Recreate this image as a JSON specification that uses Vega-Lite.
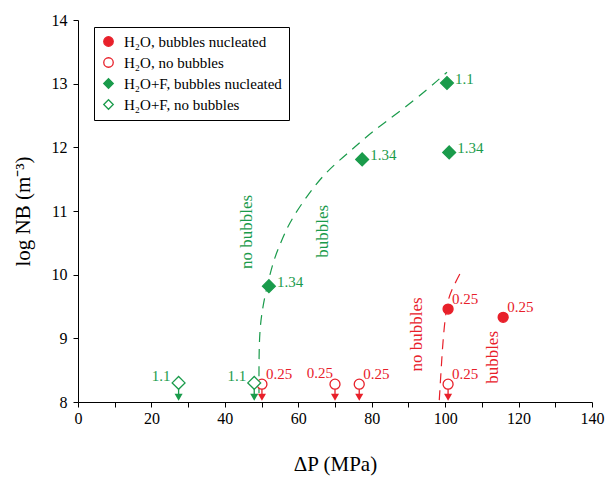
{
  "$schema": "https://vega.github.io/schema/vega-lite/v6.json",
  "width": 514,
  "height": 382,
  "autosize": {"type": "none"},
  "padding": {"left": 78, "top": 20, "right": 17, "bottom": 78},
  "background": "white",
  "config": {
    "view": {"stroke": null},
    "font": "Liberation Serif",
    "axis": {
      "grid": false,
      "domainColor": "#000000",
      "domainWidth": 1,
      "tickColor": "#000000",
      "tickWidth": 1,
      "tickSize": 5,
      "labelFont": "Liberation Serif",
      "labelFontSize": 16,
      "labelColor": "#000000",
      "titleFont": "Liberation Serif",
      "titleFontSize": 21,
      "titleFontWeight": "normal",
      "titleColor": "#000000"
    },
    "legend": {
      "orient": "none",
      "legendX": 16,
      "legendY": 7,
      "strokeColor": "#000000",
      "fillColor": "white",
      "padding": 7,
      "rowPadding": 5,
      "labelFont": "Liberation Serif",
      "labelFontSize": 15,
      "labelLimit": 400,
      "labelOffset": 8,
      "symbolSize": 90,
      "symbolStrokeWidth": 1.3
    }
  },
  "datasets": {
    "pts": [
      {"series": "H₂O, bubbles nucleated", "x": 100.8, "y": 9.46, "label": "0.25"},
      {"series": "H₂O, bubbles nucleated", "x": 115.8, "y": 9.33, "label": "0.25"},
      {"series": "H₂O, no bubbles", "x": 50.1, "y": 8.28, "label": "0.25"},
      {"series": "H₂O, no bubbles", "x": 70.0, "y": 8.28, "label": "0.25"},
      {"series": "H₂O, no bubbles", "x": 76.6, "y": 8.28, "label": "0.25"},
      {"series": "H₂O, no bubbles", "x": 100.8, "y": 8.28, "label": "0.25"},
      {"series": "H₂O+F, bubbles nucleated", "x": 100.5, "y": 13.01, "label": "1.1"},
      {"series": "H₂O+F, bubbles nucleated", "x": 101.1, "y": 11.92, "label": "1.34"},
      {"series": "H₂O+F, bubbles nucleated", "x": 77.4, "y": 11.81, "label": "1.34"},
      {"series": "H₂O+F, bubbles nucleated", "x": 52.0, "y": 9.82, "label": "1.34"},
      {"series": "H₂O+F, no bubbles", "x": 27.4, "y": 8.3, "label": "1.1"},
      {"series": "H₂O+F, no bubbles", "x": 48.0, "y": 8.3, "label": "1.1"}
    ],
    "curves": [
      {"curve": "green", "x": 49.3, "y": 8.14},
      {"curve": "green", "x": 49.3, "y": 8.55},
      {"curve": "green", "x": 49.6, "y": 9.13},
      {"curve": "green", "x": 50.9, "y": 9.65},
      {"curve": "green", "x": 53.0, "y": 10.15},
      {"curve": "green", "x": 55.0, "y": 10.47},
      {"curve": "green", "x": 57.8, "y": 10.82},
      {"curve": "green", "x": 62.4, "y": 11.23},
      {"curve": "green", "x": 67.8, "y": 11.61},
      {"curve": "green", "x": 74.1, "y": 11.94},
      {"curve": "green", "x": 80.4, "y": 12.25},
      {"curve": "green", "x": 87.7, "y": 12.57},
      {"curve": "green", "x": 95.1, "y": 12.91},
      {"curve": "green", "x": 100.5, "y": 13.18},
      {"curve": "red", "x": 98.4, "y": 8.03},
      {"curve": "red", "x": 98.9, "y": 8.5},
      {"curve": "red", "x": 99.5, "y": 9.0},
      {"curve": "red", "x": 100.5, "y": 9.5},
      {"curve": "red", "x": 102.0, "y": 9.78},
      {"curve": "red", "x": 104.1, "y": 10.02}
    ],
    "notes": [
      {"group": "green", "text": "no bubbles", "x": 46.0, "y": 10.67},
      {"group": "green", "text": "bubbles", "x": 66.8, "y": 10.68},
      {"group": "red", "text": "no bubbles", "x": 92.4, "y": 9.06},
      {"group": "red", "text": "bubbles", "x": 113.1, "y": 8.7}
    ]
  },
  "encoding": {
    "x": {
      "field": "x",
      "type": "quantitative",
      "scale": {"domain": [0, 140], "nice": false},
      "title": "ΔP  (MPa)",
      "axis": {
        "values": [0, 10, 20, 30, 40, 50, 60, 70, 80, 90, 100, 110, 120, 130, 140],
        "format": "d",
        "labelExpr": "datum.value % 20 === 0 ? datum.label : ''",
        "labelFlush": false,
        "labelPadding": 3,
        "titlePadding": 27
      }
    },
    "y": {
      "field": "y",
      "type": "quantitative",
      "scale": {"domain": [8, 14], "nice": false, "zero": false},
      "title": "log NB  (m⁻³)",
      "axis": {
        "values": [8, 8.5, 9, 9.5, 10, 10.5, 11, 11.5, 12, 12.5, 13, 13.5, 14],
        "format": "d",
        "labelExpr": "datum.value % 1 === 0 ? datum.label : ''",
        "labelPadding": 6,
        "titlePadding": 18
      }
    }
  },
  "layer": [
    {
      "data": {"name": "curves"},
      "mark": {"type": "line", "strokeDash": [10, 7], "strokeWidth": 1.2, "interpolate": "natural"},
      "encoding": {
        "detail": {"field": "curve", "type": "nominal"},
        "order": {"field": "y", "type": "quantitative"},
        "color": {"condition": {"test": "datum.curve === 'green'", "value": "#1a9b4b"}, "value": "#e8202a"}
      }
    },
    {
      "data": {"name": "pts"},
      "transform": [{"filter": "indexof(datum.series, 'no bubbles') >= 0"}],
      "mark": {"type": "rule", "strokeWidth": 1.3},
      "encoding": {
        "y2": {"datum": 8.06},
        "color": {"condition": {"test": "indexof(datum.series, '+F') >= 0", "value": "#1a9b4b"}, "value": "#e8202a"}
      }
    },
    {
      "data": {"name": "pts"},
      "transform": [{"filter": "indexof(datum.series, 'no bubbles') >= 0"}],
      "mark": {"type": "point", "shape": "triangle-down", "filled": true, "size": 65, "opacity": 1},
      "encoding": {
        "y": {"datum": 8.075},
        "color": {"condition": {"test": "indexof(datum.series, '+F') >= 0", "value": "#1a9b4b"}, "value": "#e8202a"}
      }
    },
    {
      "data": {"name": "pts"},
      "mark": {"type": "point", "filled": true, "strokeWidth": 1.3, "opacity": 1},
      "encoding": {
        "fill": {
          "field": "series",
          "type": "nominal",
          "title": null,
          "scale": {
            "domain": ["H₂O, bubbles nucleated", "H₂O, no bubbles", "H₂O+F, bubbles nucleated", "H₂O+F, no bubbles"],
            "range": ["#e8202a", "#ffffff", "#1a9b4b", "#ffffff"]
          },
          "legend": {
            "encode": {
              "labels": {
                "update": {
                  "fill": {"signal": "indexof(datum.label, '+F') >= 0 ? '#1a9b4b' : '#e8202a'"}
                }
              }
            }
          }
        },
        "stroke": {
          "field": "series",
          "type": "nominal",
          "title": null,
          "scale": {
            "domain": ["H₂O, bubbles nucleated", "H₂O, no bubbles", "H₂O+F, bubbles nucleated", "H₂O+F, no bubbles"],
            "range": ["#e8202a", "#e8202a", "#1a9b4b", "#1a9b4b"]
          }
        },
        "shape": {
          "field": "series",
          "type": "nominal",
          "title": null,
          "scale": {
            "domain": ["H₂O, bubbles nucleated", "H₂O, no bubbles", "H₂O+F, bubbles nucleated", "H₂O+F, no bubbles"],
            "range": ["circle", "circle", "diamond", "diamond"]
          }
        },
        "size": {"condition": {"test": "indexof(datum.series, '+F') >= 0", "value": 165}, "value": 100}
      }
    },
    {
      "data": {"name": "pts"},
      "transform": [{"filter": "datum.series === 'H₂O+F, bubbles nucleated'"}],
      "mark": {"type": "text", "align": "left", "baseline": "middle", "dx": 8, "dy": -4, "fontSize": 15, "color": "#1a9b4b"},
      "encoding": {"text": {"field": "label"}}
    },
    {
      "data": {"name": "pts"},
      "transform": [{"filter": "datum.series === 'H₂O+F, no bubbles'"}],
      "mark": {"type": "text", "align": "right", "baseline": "middle", "dx": -8, "dy": -7, "fontSize": 15, "color": "#1a9b4b"},
      "encoding": {"text": {"field": "label"}}
    },
    {
      "data": {"name": "pts"},
      "transform": [{"filter": "indexof(datum.series, '+F') < 0 && datum.x !== 70"}],
      "mark": {"type": "text", "align": "left", "baseline": "middle", "dx": 4, "dy": -10, "fontSize": 15, "color": "#e8202a"},
      "encoding": {"text": {"field": "label"}}
    },
    {
      "data": {"name": "pts"},
      "transform": [{"filter": "indexof(datum.series, '+F') < 0 && datum.x === 70"}],
      "mark": {"type": "text", "align": "right", "baseline": "middle", "dx": -2, "dy": -11, "fontSize": 15, "color": "#e8202a"},
      "encoding": {"text": {"field": "label"}}
    },
    {
      "data": {"name": "notes"},
      "mark": {"type": "text", "angle": 270, "align": "center", "baseline": "middle", "fontSize": 17},
      "encoding": {
        "text": {"field": "text"},
        "color": {"condition": {"test": "datum.group === 'green'", "value": "#1a9b4b"}, "value": "#e8202a"}
      }
    }
  ]
}
